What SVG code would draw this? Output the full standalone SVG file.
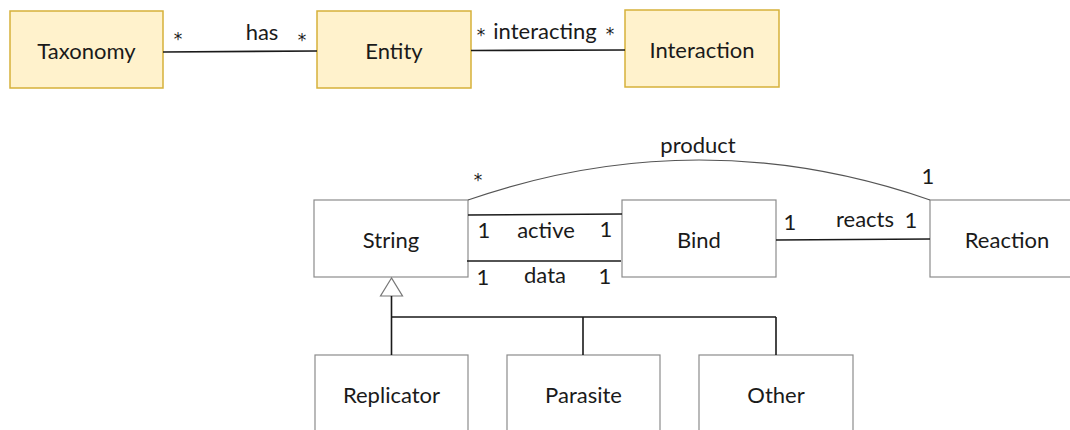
<svg xmlns="http://www.w3.org/2000/svg" width="1070" height="430" viewBox="0 0 1070 430">
  <style>
    text { font-family: Lato, "Liberation Sans", sans-serif; font-size: 22px; fill: #1a1a1a; }
    .c { text-anchor: middle; dominant-baseline: central; }
    .lbl { font-size: 22px; }
    .star { font-family: "DejaVu Sans", sans-serif; font-size: 17px; text-anchor: middle; dominant-baseline: central; fill: #1a1a1a; }
    .entity rect { fill: #fff2cc; stroke: #d6b13a; stroke-width: 1.5; }
    .cls rect { fill: #ffffff; stroke: #8c8c8c; stroke-width: 1.2; }
    .assoc { fill: none; stroke: #1a1a1a; stroke-width: 1.6; }
    .thin { fill: none; stroke: #555; stroke-width: 1.2; }
  </style>

  <!-- upper model: taxonomy / entity / interaction -->
  <g id="taxonomy" class="entity"><rect x="10" y="11" width="153" height="77"/><text class="c" x="86.5" y="50">Taxonomy</text></g>
  <g id="entity" class="entity"><rect x="317" y="11" width="154" height="77"/><text class="c" x="394" y="50">Entity</text></g>
  <g id="interaction" class="entity"><rect x="625" y="10" width="154" height="77"/><text class="c" x="702" y="49">Interaction</text></g>

  <!-- lower model: strings, binds and reactions -->
  <g id="string" class="cls"><rect x="314" y="200" width="154" height="77"/><text class="c" x="391" y="239">String</text></g>
  <g id="bind" class="cls"><rect x="622" y="200" width="154" height="77"/><text class="c" x="699" y="239">Bind</text></g>
  <g id="reaction" class="cls"><rect x="930" y="200" width="154" height="77"/><text class="c" x="1007" y="239">Reaction</text></g>
  <g id="replicator" class="cls"><rect x="315" y="355" width="153" height="90"/><text class="c" x="391.5" y="394">Replicator</text></g>
  <g id="parasite" class="cls"><rect x="507" y="355" width="153" height="90"/><text class="c" x="583.5" y="394">Parasite</text></g>
  <g id="other" class="cls"><rect x="699" y="355" width="154" height="90"/><text class="c" x="776" y="394">Other</text></g>

  <g id="connectors">
    <!-- taxonomy has entity -->
    <path class="assoc" d="M163 52 L317 51"/>
    <text class="star" x="178" y="39">*</text>
    <text class="lbl" x="262" y="40" text-anchor="middle">has</text>
    <text class="star" x="302" y="40">*</text>

    <!-- entity interacting interaction -->
    <path class="assoc" d="M471 50.5 L625 50"/>
    <text class="star" x="481" y="35">*</text>
    <text class="lbl" x="545" y="39" text-anchor="middle">interacting</text>
    <text class="star" x="610" y="34">*</text>

    <!-- string product reaction -->
    <path class="thin" d="M468 200 Q699 120 930 200"/>
    <text class="lbl" x="698" y="153" text-anchor="middle">product</text>
    <text class="star" x="478" y="180">*</text>
    <text class="lbl" x="928" y="184" text-anchor="middle">1</text>

    <!-- string active bind -->
    <path class="assoc" d="M468 215 L622 214"/>
    <text class="lbl" x="484" y="238" text-anchor="middle">1</text>
    <text class="lbl" x="546" y="238" text-anchor="middle">active</text>
    <text class="lbl" x="606" y="237" text-anchor="middle">1</text>

    <!-- string data bind -->
    <path class="assoc" d="M467 261 L621 261"/>
    <text class="lbl" x="483" y="285" text-anchor="middle">1</text>
    <text class="lbl" x="545" y="283" text-anchor="middle">data</text>
    <text class="lbl" x="605" y="284" text-anchor="middle">1</text>

    <!-- bind reacts reaction -->
    <path class="assoc" d="M776 240 L930 239"/>
    <text class="lbl" x="790" y="230" text-anchor="middle">1</text>
    <text class="lbl" x="865" y="227" text-anchor="middle">reacts</text>
    <text class="lbl" x="911" y="228" text-anchor="middle">1</text>

    <!-- generalisation tree -->
    <path d="M391.5 278 L380.5 296 L402.5 296 Z" fill="#fff" stroke="#777" stroke-width="1.2"/>
    <path class="assoc" stroke-width="1.4" d="M391.5 296 V355 M391.5 317 H776 M583 317 V355 M776 317 V355"/>
  </g>
</svg>
